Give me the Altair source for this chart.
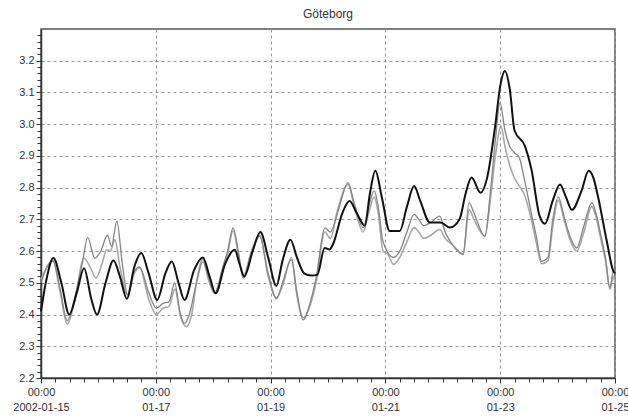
import altair as alt
import pandas as pd

TITLE = "Göteborg"
START = "2002-01-15"

# hours since 2002-01-15 00:00 and water level values
black_h = [0, 2, 5.2, 8.5, 11.8, 15, 18, 21, 23.4, 27, 30.3, 33, 35.9, 39, 41.9, 45, 48.6, 52, 54.7, 57.5,
           60, 64, 67.7, 70.5, 73, 77, 81, 83, 85, 88.5, 91.7, 95, 98.4, 101, 104.3, 107, 110, 113, 115.5,
           118.6, 120.5, 122, 126, 129, 132, 135.4, 137.5, 139.8, 142.5, 145.8, 150, 153, 156, 158.5, 162.6,
           167, 171, 175, 177.5, 180, 183.8, 186.5, 190, 192, 194, 196, 198, 202.4, 205, 208.5, 210.7, 214,
           217, 219.5, 222, 226, 229, 231, 233, 236.6, 239.3, 240]
black_v = [2.41, 2.50, 2.578, 2.50, 2.40, 2.47, 2.546, 2.45, 2.40, 2.50, 2.57, 2.52, 2.45, 2.55, 2.594, 2.53,
           2.446, 2.53, 2.567, 2.50, 2.446, 2.54, 2.58, 2.52, 2.467, 2.56, 2.604, 2.56, 2.52, 2.60, 2.66, 2.58,
           2.49, 2.57, 2.636, 2.58, 2.53, 2.523, 2.525, 2.61, 2.605, 2.62, 2.72, 2.758, 2.72, 2.68, 2.78, 2.853,
           2.77, 2.663, 2.663, 2.74, 2.805, 2.76, 2.69, 2.69, 2.674, 2.70, 2.78, 2.832, 2.784, 2.83, 3.0, 3.12,
           3.168, 3.11, 2.98, 2.93, 2.86, 2.71, 2.686, 2.76, 2.81, 2.77, 2.73, 2.79, 2.853, 2.83, 2.768, 2.63,
           2.537, 2.53]

gray1_h = [0, 2.5, 5, 8, 11, 14, 17.4, 19.5, 22.5, 25, 27.8, 29.5, 31.7, 34, 36.2, 39, 41.2, 45, 48.2, 51,
           53.5, 55.9, 58, 60, 62, 65, 67.7, 70, 72.6, 76, 78, 80.3, 82.5, 84.5, 88, 91.4, 95, 98.4, 101, 104.7,
           107, 109.6, 113, 115, 118.7, 121, 124, 128.4, 131, 134.7, 137, 139.3, 141, 143, 147.4, 150, 153, 156,
           158, 160, 163, 166.7, 169, 172, 176.5, 179, 181, 185.6, 188, 190, 191.9, 194, 196, 198, 200, 202,
           205, 207, 209.3, 212, 214, 216.3, 219, 221, 224, 227, 230.3, 232, 234, 236, 237.9, 239.3, 240]
gray1_v = [2.50, 2.55, 2.57, 2.48, 2.38, 2.45, 2.567, 2.643, 2.578, 2.60, 2.65, 2.615, 2.694, 2.56, 2.462,
           2.536, 2.55, 2.47, 2.42, 2.435, 2.44, 2.50, 2.41, 2.372, 2.40, 2.50, 2.567, 2.52, 2.467, 2.55, 2.60,
           2.673, 2.60, 2.515, 2.59, 2.647, 2.53, 2.45, 2.50, 2.573, 2.47, 2.383, 2.45, 2.515, 2.673, 2.66, 2.72,
           2.816, 2.75, 2.674, 2.74, 2.79, 2.74, 2.63, 2.58, 2.60, 2.66, 2.716, 2.70, 2.68, 2.69, 2.71, 2.66,
           2.62, 2.59, 2.753, 2.72, 2.647, 2.795, 2.95, 3.068, 2.98, 2.93, 2.91, 2.895, 2.83, 2.72, 2.65, 2.568,
           2.58, 2.70, 2.77, 2.70, 2.65, 2.61, 2.68, 2.753, 2.72, 2.653, 2.58, 2.484, 2.537, 2.53]

gray2_h = [0, 2.5, 5, 8, 11, 14, 18, 20.5, 23, 25.5, 27.5, 29, 30.9, 33, 36.2, 39, 41.2, 45, 48.2, 51, 53.5,
           56, 58.5, 60.8, 63, 65, 67.7, 70, 72.6, 76, 78, 80.3, 82.5, 84.5, 88, 91.4, 95, 98.4, 101, 104.7, 107,
           109.6, 113, 115, 118.7, 121, 124, 128.4, 131, 134.7, 137, 139.3, 141, 143, 145, 147.4, 150, 153, 156,
           158, 160, 163, 166.7, 169, 172, 176.5, 179, 181, 185.6, 188, 190, 192.3, 194, 196, 198, 200, 202,
           205, 207, 209.3, 212, 214, 216.3, 219, 221, 224, 227, 230.3, 232, 234, 236, 237.9, 239.3, 240]
gray2_v = [2.51, 2.55, 2.57, 2.47, 2.37, 2.44, 2.578, 2.55, 2.515, 2.56, 2.604, 2.60, 2.636, 2.55, 2.462,
           2.53, 2.548, 2.45, 2.40, 2.42, 2.425, 2.48, 2.39, 2.362, 2.40, 2.50, 2.575, 2.51, 2.467, 2.54, 2.59,
           2.665, 2.59, 2.52, 2.60, 2.65, 2.52, 2.452, 2.49, 2.58, 2.46, 2.39, 2.44, 2.50, 2.66, 2.64, 2.73,
           2.81, 2.74, 2.66, 2.72, 2.77, 2.72, 2.60, 2.59, 2.558, 2.58, 2.63, 2.674, 2.66, 2.64, 2.65, 2.668,
           2.64, 2.62, 2.59, 2.73, 2.70, 2.647, 2.77, 2.90, 2.995, 2.93, 2.87, 2.83, 2.805, 2.78, 2.70, 2.63,
           2.56, 2.57, 2.68, 2.76, 2.69, 2.64, 2.60, 2.66, 2.74, 2.71, 2.64, 2.57, 2.48, 2.52, 2.50]

Y_MIN, Y_MAX = 2.2, 3.3
DAYS = 10

start = pd.Timestamp(START)


def frame(hours, values, name):
    times = [(start + pd.Timedelta(hours=h)).strftime("%Y-%m-%dT%H:%M:%SZ") for h in hours]
    return pd.DataFrame({"time": times, "level": values, "series": name})


df_black = frame(black_h, black_v, "black")
df_g1 = frame(gray1_h, gray1_v, "gray1")
df_g2 = frame(gray2_h, gray2_v, "gray2")

start_ms = int(pd.Timestamp(START, tz="UTC").value // 10**6)
hour_ms = 3600 * 1000
x_ticks = [start_ms + i * 6 * hour_ms for i in range(DAYS * 4 + 1)]
x_domain = [start_ms, start_ms + DAYS * 24 * hour_ms]

y_ticks = [round(Y_MIN + 0.02 * i, 2) for i in range(55)]

FONT = "Liberation Sans"
x_major = "utchours(datum.value) == 0 && utcdate(datum.value) % 2 == 1"
y_major = "abs(datum.value * 10 - round(datum.value * 10)) < 0.001"

x_axis = alt.Axis(
    values=x_ticks,
    labelExpr=(f"{x_major} ? ['00:00', utcdate(datum.value) == 15 ? utcFormat(datum.value, '%Y-%m-%d') "
               f": utcFormat(datum.value, '%m-%d')] : ''"),
    grid=True, gridDash=[3, 3], gridColor="#999999", gridWidth=1,
    gridOpacity={"condition": {"test": x_major, "value": 1}, "value": 0},
    tickSize={"condition": {"test": x_major, "value": 5}, "value": 4},
    tickColor="#333333", domainColor="#333333", domainWidth=1.5,
    labelFont=FONT, labelFontSize=11, labelColor="#333333", labelLineHeight=15,
    labelPadding=3, labelOverlap=False, labelFlush=False, labelBound=False, title=None,
)

y_axis = alt.Axis(
    values=y_ticks,
    labelExpr=f"{y_major} && datum.value < 3.25 ? format(datum.value, '.1f') : ''",
    grid=True, gridDash=[3, 3], gridColor="#999999", gridWidth=1,
    gridOpacity={"condition": {"test": f"{y_major} && datum.value < 3.25 && datum.value > 2.25",
                               "value": 1}, "value": 0},
    tickSize={"condition": {"test": y_major, "value": 5}, "value": 4},
    tickColor="#333333", domainColor="#333333", domainWidth=1.5,
    labelFont=FONT, labelFontSize=11, labelColor="#333333",
    labelPadding=2, labelOverlap=False, labelFlush=False, title=None,
)

x_enc = alt.X("time:T", scale=alt.Scale(type="utc", domain=x_domain, nice=False), axis=x_axis)
y_enc = alt.Y("level:Q", scale=alt.Scale(domain=[Y_MIN, Y_MAX], nice=False, zero=False), axis=y_axis)


def line(df, color, width):
    return alt.Chart(df).mark_line(color=color, strokeWidth=width, interpolate="monotone").encode(
        x=x_enc, y=y_enc
    )


chart = alt.layer(
    line(df_g2, "#a8a8a8", 1.6),
    line(df_g1, "#858585", 1.3),
    line(df_black, "#111111", 2.0),
).properties(
    width=574, height=349,
    title=alt.TitleParams(TITLE, font=FONT, fontSize=12, fontWeight="normal", color="#333333",
                          anchor="middle", offset=8),
    autosize=alt.AutoSizeParams(type="none"),
    padding={"left": 41, "top": 29, "right": 13, "bottom": 41},
).configure_view(stroke="#555555", strokeWidth=1.5)

chart.save("out.html", embed_options={"renderer": "svg", "actions": False})
